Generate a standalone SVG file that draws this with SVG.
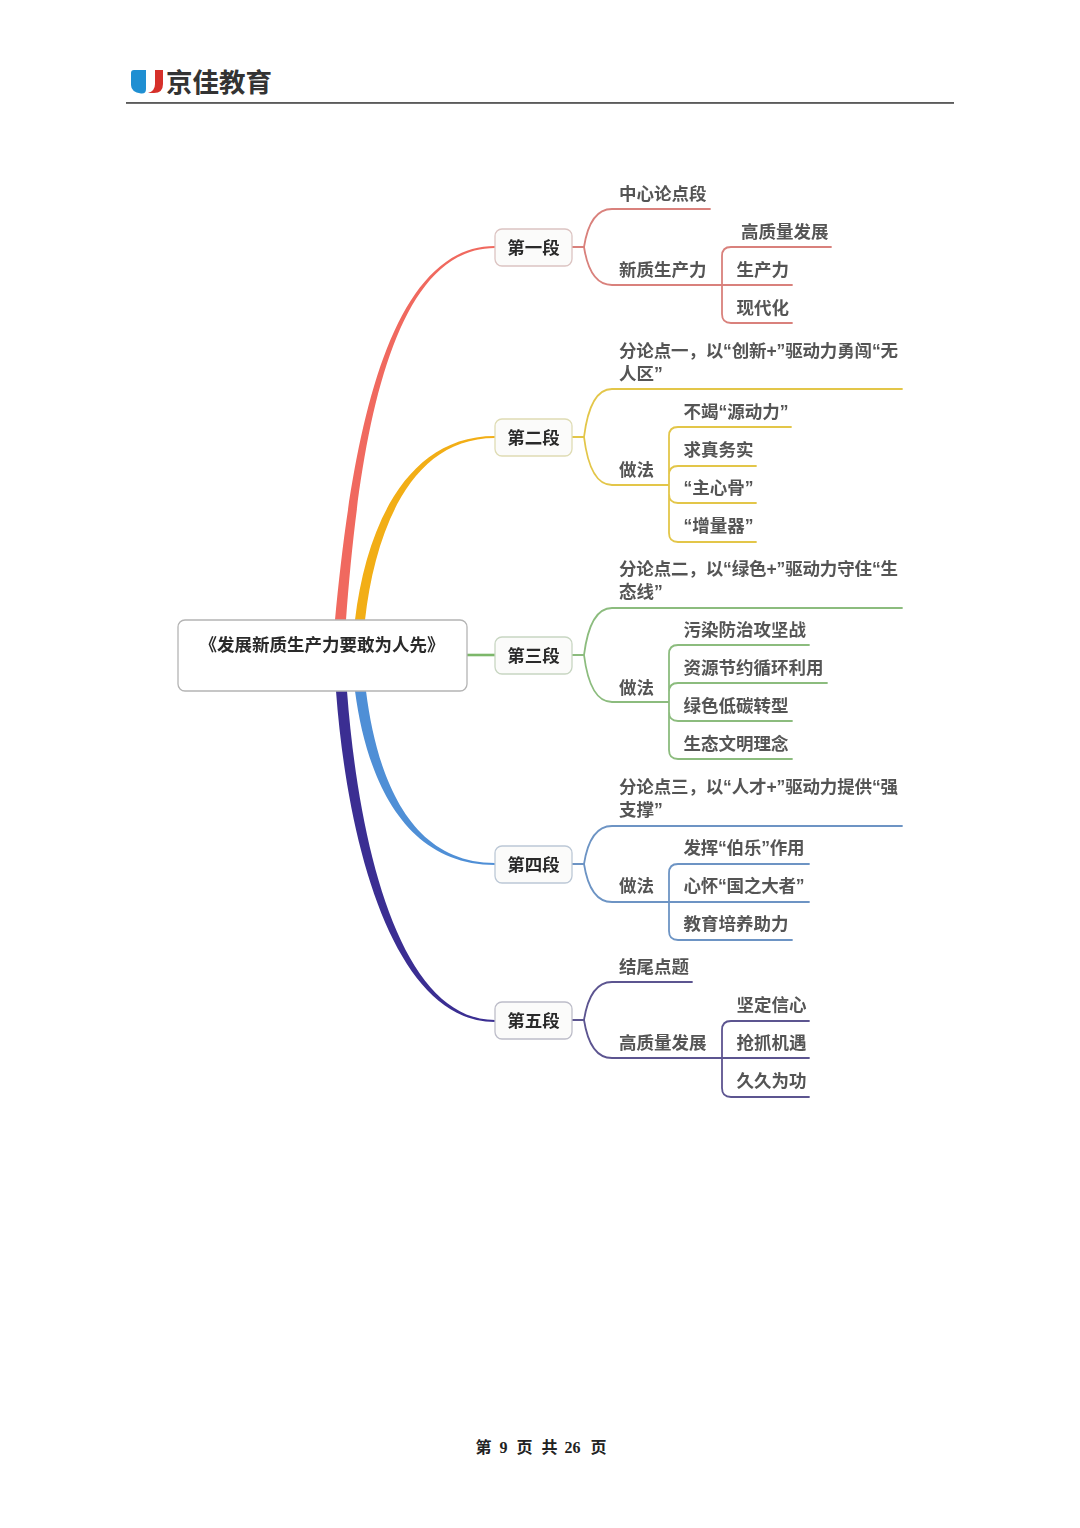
<svg xmlns="http://www.w3.org/2000/svg" width="1080" height="1528" viewBox="0 0 1080 1528">
<defs>
<filter id="soft" x="-5%" y="-5%" width="110%" height="110%"><feGaussianBlur stdDeviation="0.45"/></filter>
</defs>
<style>
text{font-family:"Liberation Sans","Noto Sans CJK SC",sans-serif}
.leaf{font-size:17.5px;font-weight:700;fill:#555}
.sec{font-size:17.5px;font-weight:700;fill:#2b2b2b}
.box{fill:#fbfbfa;stroke-width:1.3}
.ln{fill:none;stroke-width:1.8;stroke-linecap:round}
.foot{font-family:"Liberation Serif","Noto Sans CJK SC",serif;font-size:16px;font-weight:700;fill:#222}
</style>
<rect width="1080" height="1528" fill="#fff"/>
<g id="header">
<path d="M134,70H146V89Q146,94 141,93.5Q131,92 131,85V73Q131,70 134,70Z" fill="#1f8fd2"/>
<path d="M155,70H163V84Q163,93 154,93H148Q155,91 155,84Z" fill="#d6302a"/>
<text x="166" y="92" style="font-size:26.500px;font-weight:700;fill:#333">京佳教育</text>
<rect x="126" y="102.200" width="828" height="1.500" fill="#333"/>
</g>
<g id="connectors" filter="url(#soft)">
<path d="M335,620C350,460 382,246 495,246V248C385,248 358,460 346,620Z" fill="#f0695e"/>
<path d="M355,620C366,528 406,436 495,436V438C410,438 375,532 365,620Z" fill="#f2ae14"/>
<path d="M467,653.700H495V656.300H467Z" fill="#7cb76b"/>
<path d="M355,691C367,782 406,865 495,865V863C410,863 377,778 366,691Z" fill="#4f8fd6"/>
<path d="M336,691C348,852 396,1022 495,1022V1020C401,1020 359,850 347,691Z" fill="#3a2f92"/>
<g stroke="#d9817c">
<path class="ln" d="M572,247H584M710,209H612Q590,209 584,247Q590,285 612,285H792M831,247H731Q722,247 722,256V314Q722,323 731,323H792"/>
</g>
<g stroke="#e3c64a">
<path class="ln" d="M572,437H584M902,389H612Q590,389 584,437Q590,485 612,485H669M791,427H678Q669,427 669,436V533Q669,542 678,542H756M756,466H678Q669,466 669,475M669,494Q669,503 678,503H756"/>
</g>
<g stroke="#8cbc7e">
<path class="ln" d="M572,655H584M902,608H612Q590,608 584,655Q590,702 612,702H669M809,645H678Q669,645 669,654V750Q669,759 678,759H792M827,683H678Q669,683 669,692M669,712Q669,721 678,721H792"/>
</g>
<g stroke="#6d94c4">
<path class="ln" d="M572,864H584M902,826H612Q590,826 584,864Q590,902 612,902H809M809,864H678Q669,864 669,873V931Q669,940 678,940H792"/>
</g>
<g stroke="#5c5490">
<path class="ln" d="M572,1020H584M692,982H612Q590,982 584,1020Q590,1058 612,1058H809M809,1021H731Q722,1021 722,1030V1088Q722,1097 731,1097H809"/>
</g>
</g>
<g filter="url(#soft)">
<g id="root"><rect x="178" y="620" width="289" height="71" rx="7" fill="#fff" stroke="#b4b4b4" stroke-width="1.300"/>
<text x="322" y="651" text-anchor="middle" class="sec">《发展新质生产力要敢为人先》</text></g>
<g id="s1"><rect class="box" x="495" y="229" width="77" height="37" rx="7" stroke="#dcc4c2"/><text class="sec" x="533.500" y="254" text-anchor="middle">第一段</text></g>
<g id="s2"><rect class="box" x="495" y="419" width="77" height="37" rx="7" stroke="#dfdcb4"/><text class="sec" x="533.500" y="444" text-anchor="middle">第二段</text></g>
<g id="s3"><rect class="box" x="495" y="637" width="77" height="37" rx="7" stroke="#c8d6c2"/><text class="sec" x="533.500" y="662" text-anchor="middle">第三段</text></g>
<g id="s4"><rect class="box" x="495" y="846" width="77" height="37" rx="7" stroke="#bcc8d6"/><text class="sec" x="533.500" y="871" text-anchor="middle">第四段</text></g>
<g id="s5"><rect class="box" x="495" y="1002" width="77" height="37" rx="7" stroke="#bdbdc9"/><text class="sec" x="533.500" y="1027" text-anchor="middle">第五段</text></g>
<g id="n1-1"><text class="leaf" x="619" y="199.500">中心论点段</text></g>
<g id="n1-2"><text class="leaf" x="619" y="275.500">新质生产力</text></g>
<g id="n1-2-1"><text class="leaf" x="741" y="237.500">高质量发展</text></g>
<g id="n1-2-2"><text class="leaf" x="736.500" y="275.500">生产力</text></g>
<g id="n1-2-3"><text class="leaf" x="736.500" y="313.500">现代化</text></g>
<g id="n2-1"><text class="leaf" x="619" y="356.500" textLength="279">分论点一，以“创新+”驱动力勇闯“无</text><text class="leaf" x="619" y="379.500">人区”</text></g>
<g id="n2-2"><text class="leaf" x="619" y="475.500">做法</text></g>
<g id="n2-2-1"><text class="leaf" x="683.500" y="417.500">不竭“源动力”</text></g>
<g id="n2-2-2"><text class="leaf" x="683.500" y="455.500">求真务实</text></g>
<g id="n2-2-3"><text class="leaf" x="683.500" y="493.500">“主心骨”</text></g>
<g id="n2-2-4"><text class="leaf" x="683.500" y="531.500">“增量器”</text></g>
<g id="n3-1"><text class="leaf" x="619" y="574.500" textLength="279">分论点二，以“绿色+”驱动力守住“生</text><text class="leaf" x="619" y="597.500">态线”</text></g>
<g id="n3-2"><text class="leaf" x="619" y="693.500">做法</text></g>
<g id="n3-2-1"><text class="leaf" x="683.500" y="635.500">污染防治攻坚战</text></g>
<g id="n3-2-2"><text class="leaf" x="683.500" y="673.500">资源节约循环利用</text></g>
<g id="n3-2-3"><text class="leaf" x="683.500" y="711.500">绿色低碳转型</text></g>
<g id="n3-2-4"><text class="leaf" x="683.500" y="749.500">生态文明理念</text></g>
<g id="n4-1"><text class="leaf" x="619" y="792.500" textLength="279">分论点三，以“人才+”驱动力提供“强</text><text class="leaf" x="619" y="815.500">支撑”</text></g>
<g id="n4-2"><text class="leaf" x="619" y="891.500">做法</text></g>
<g id="n4-2-1"><text class="leaf" x="683.500" y="853.500" textLength="121">发挥“伯乐”作用</text></g>
<g id="n4-2-2"><text class="leaf" x="683.500" y="891.500" textLength="121">心怀“国之大者”</text></g>
<g id="n4-2-3"><text class="leaf" x="683.500" y="929.500">教育培养助力</text></g>
<g id="n5-1"><text class="leaf" x="619" y="972.500">结尾点题</text></g>
<g id="n5-2"><text class="leaf" x="619" y="1048.500">高质量发展</text></g>
<g id="n5-2-1"><text class="leaf" x="736.500" y="1010.500">坚定信心</text></g>
<g id="n5-2-2"><text class="leaf" x="736.500" y="1048.500">抢抓机遇</text></g>
<g id="n5-2-3"><text class="leaf" x="736.500" y="1086.500">久久为功</text></g>
</g>
<g id="footer">
<text class="foot" x="475.500" y="1453">第</text><text class="foot" x="499.500" y="1453">9</text><text class="foot" x="516.500" y="1453">页</text><text class="foot" x="541.500" y="1453">共</text><text class="foot" x="564.500" y="1453">26</text><text class="foot" x="590.500" y="1453">页</text>
</g>
</svg>
